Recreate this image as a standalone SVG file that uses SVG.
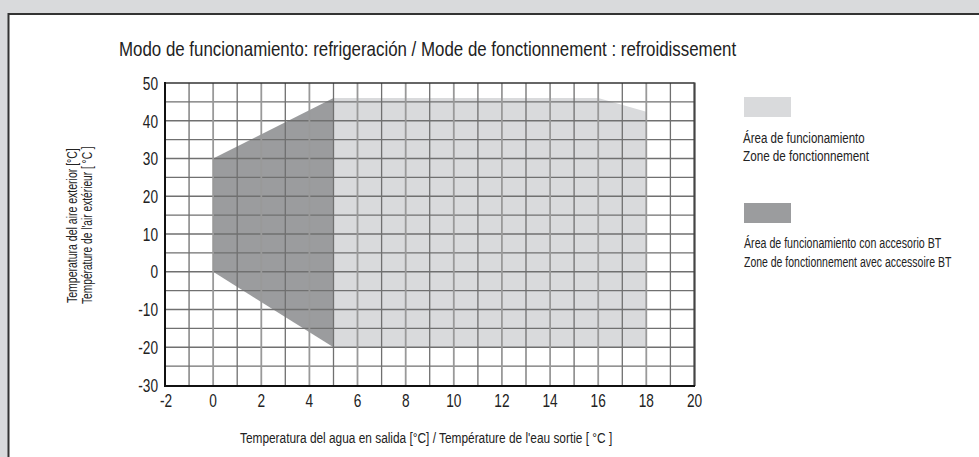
<svg xmlns="http://www.w3.org/2000/svg" width="979" height="457" viewBox="0 0 979 457">
<style>
text{font-family:"Liberation Sans",Arial,sans-serif;fill:#222}
.t{font-size:15px}
.tick{font-size:18px;fill:#2a2a2a}
.g{stroke:#707070;stroke-width:1.3;fill:none}
.ge{stroke:#999;stroke-width:1.8;fill:none}
</style>
<rect x="0" y="0" width="979" height="457" fill="#d9dadc"/>
<rect x="8.5" y="14" width="975" height="450" fill="#fff"/>
<path d="M8.5 464V14H979" fill="none" stroke="#333" stroke-width="2"/>
<text id="title" transform="translate(119,56) scale(0.76,1)" font-size="20.5" textLength="812" lengthAdjust="spacingAndGlyphs">Modo de funcionamiento: refrigeración / Mode de fonctionnement : refroidissement</text>
<g id="areas">
<polygon points="333.5,98.1 598.2,98.1 646.3,111.7 646.3,347.25 333.5,347.25" fill="#d9dadc"/>
<polygon points="213.14,158.5 333.5,98.1 333.5,347.25 213.14,271.75" fill="#9b9c9e"/>
</g>
<g id="grid">
<path class="g" d="M165 101.9H694.5M165 120.75H694.5M165 139.6H694.5M165 158.5H694.5M165 177.4H694.5M165 196.25H694.5M165 215.1H694.5M165 234H694.5M165 252.9H694.5M165 271.75H694.5M165 290.6H694.5M165 309.5H694.5M165 328.4H694.5M165 347.25H694.5M165 366.1H694.5"/>
<path class="g" d="M189.07 83V385M237.2 83V385M285.3 83V385M333.5 83V385M381.6 83V385M429.7 83V385M477.9 83V385M526 83V385M574.1 83V385M622.3 83V385M670.4 83V385"/>
<path class="ge" d="M213.14 83V385M261.3 83V385M309.4 83V385M357.5 83V385M405.7 83V385M453.8 83V385M501.9 83V385M550.1 83V385M598.2 83V385M646.3 83V385"/>
<path d="M165 83H694.5" stroke="#333" stroke-width="1.5"/>
<path d="M694.5 82.5V386" stroke="#444" stroke-width="2.2"/>
<path d="M165 82V386H695" fill="none" stroke="#111" stroke-width="2"/>
</g>
<g id="yticks" class="tick" text-anchor="end">
<text transform="translate(158,89.5) scale(0.76,1)">50</text>
<text transform="translate(158,127.5) scale(0.76,1)">40</text>
<text transform="translate(158,165) scale(0.76,1)">30</text>
<text transform="translate(158,202.5) scale(0.76,1)">20</text>
<text transform="translate(158,240.5) scale(0.76,1)">10</text>
<text transform="translate(158,278) scale(0.76,1)">0</text>
<text transform="translate(158,316) scale(0.76,1)">-10</text>
<text transform="translate(158,353.5) scale(0.76,1)">-20</text>
<text transform="translate(158,391.5) scale(0.76,1)">-30</text>
</g>
<g id="xticks" class="tick" text-anchor="middle">
<text transform="translate(166,407) scale(0.76,1)">-2</text>
<text transform="translate(213.14,407) scale(0.76,1)">0</text>
<text transform="translate(261.3,407) scale(0.76,1)">2</text>
<text transform="translate(309.4,407) scale(0.76,1)">4</text>
<text transform="translate(357.5,407) scale(0.76,1)">6</text>
<text transform="translate(405.7,407) scale(0.76,1)">8</text>
<text transform="translate(453.8,407) scale(0.76,1)">10</text>
<text transform="translate(501.9,407) scale(0.76,1)">12</text>
<text transform="translate(550.1,407) scale(0.76,1)">14</text>
<text transform="translate(598.2,407) scale(0.76,1)">16</text>
<text transform="translate(646.3,407) scale(0.76,1)">18</text>
<text transform="translate(694.5,407) scale(0.76,1)">20</text>
</g>
<text id="xlabel" class="t" transform="translate(240,443) scale(0.72,1)" textLength="517" lengthAdjust="spacingAndGlyphs">Temperatura del agua en salida [°C] / Température de l'eau sortie [ °C ]</text>
<g id="ylabel" class="t">
<text transform="translate(77,303) rotate(-90) scale(0.72,1)" textLength="215" lengthAdjust="spacingAndGlyphs">Temperatura del aire exterior [°C]</text>
<text transform="translate(92,304) rotate(-90) scale(0.72,1)" textLength="219" lengthAdjust="spacingAndGlyphs">Température de l'air extérieur [ °C ]</text>
</g>
<g id="legend-std">
<rect x="744" y="97" width="47" height="20" fill="#d9dadc"/>
<text class="t" transform="translate(743,143) scale(0.72,1)" textLength="169" lengthAdjust="spacingAndGlyphs">Área de funcionamiento</text>
<text class="t" transform="translate(743,161) scale(0.72,1)" textLength="175" lengthAdjust="spacingAndGlyphs">Zone de fonctionnement</text>
</g>
<g id="legend-bt">
<rect x="744" y="203" width="47" height="20" fill="#9b9c9e"/>
<text class="t" transform="translate(744,248) scale(0.72,1)" textLength="274" lengthAdjust="spacingAndGlyphs">Área de funcionamiento con accesorio BT</text>
<text class="t" transform="translate(744,267) scale(0.72,1)" textLength="288" lengthAdjust="spacingAndGlyphs">Zone de fonctionnement avec accessoire BT</text>
</g>
</svg>
